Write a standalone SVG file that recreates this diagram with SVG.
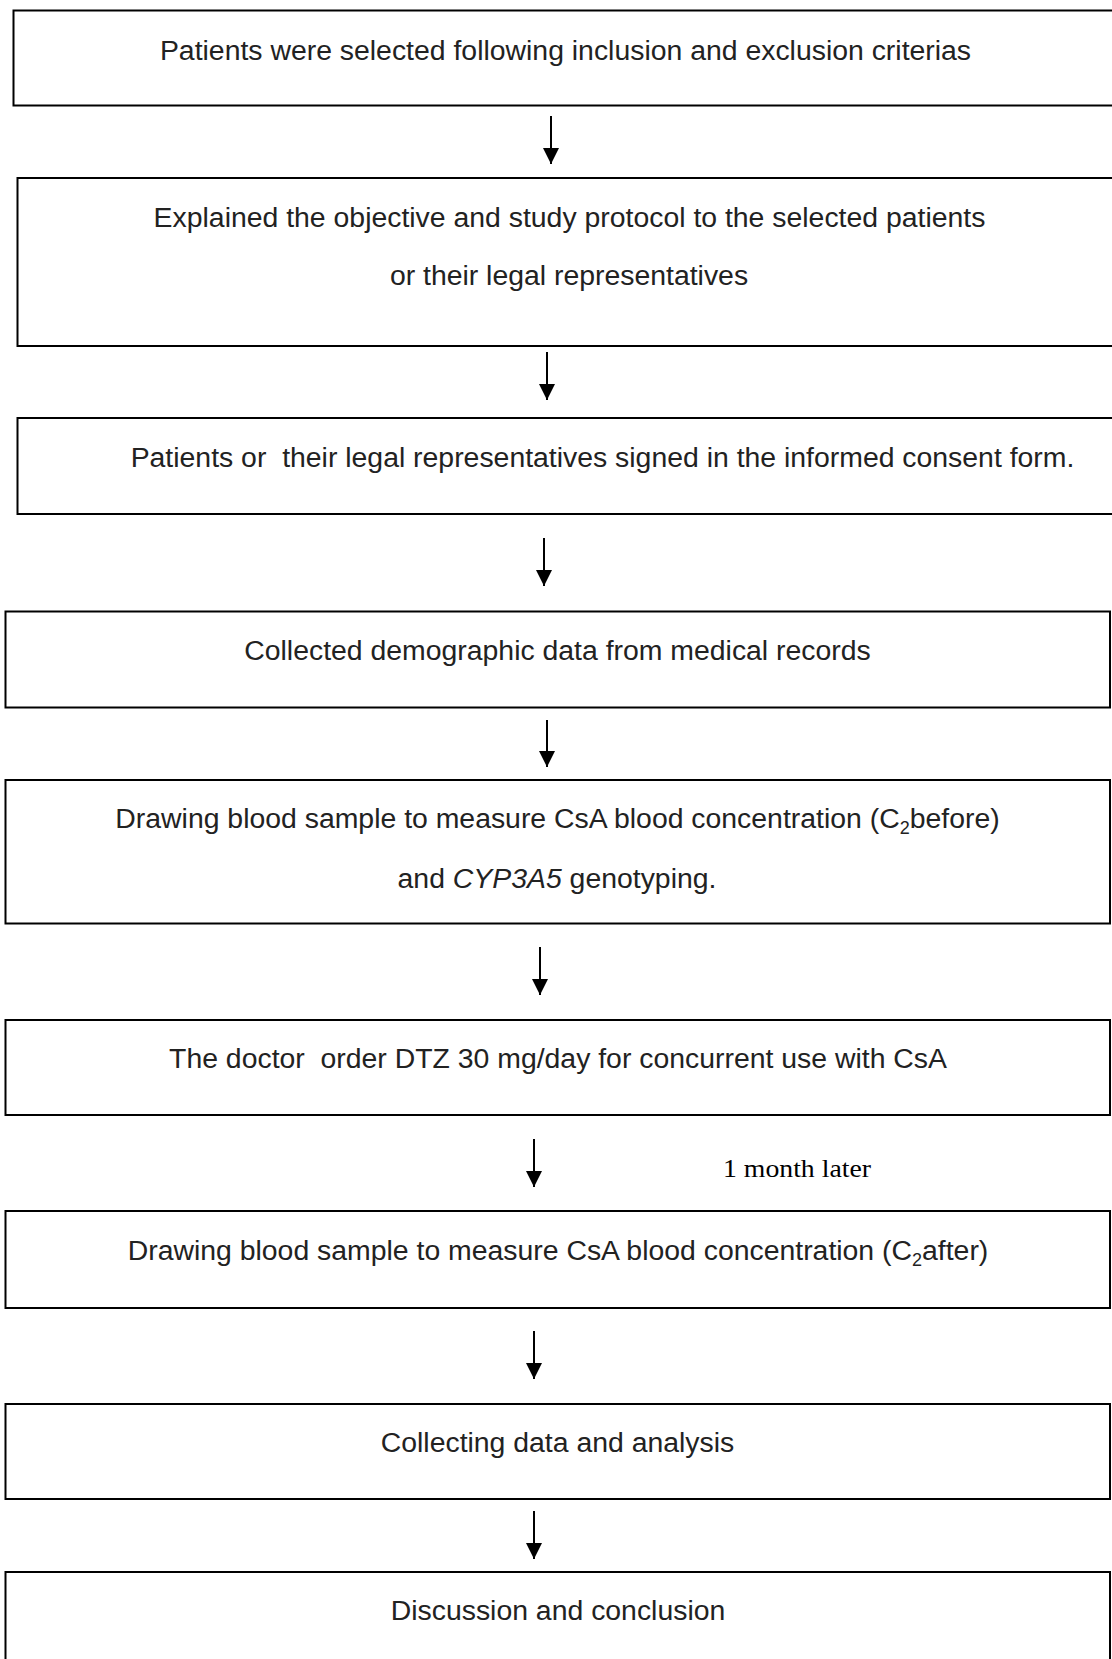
<svg xmlns="http://www.w3.org/2000/svg" width="1112" height="1659" viewBox="0 0 1112 1659">
<style>
.box{fill:#fff;stroke:#000;stroke-width:2}
.t{font-family:"Liberation Sans",Arial,sans-serif;font-size:28.4px;fill:#222;text-anchor:middle}
.sub{font-size:18px}
.conn{stroke:#000;stroke-width:2;fill:none;marker-end:url(#ah)}
.lbl{font-family:"Liberation Serif","Times New Roman",serif;font-size:26px;fill:#000}
</style>
<defs>
<marker id="ah" markerUnits="userSpaceOnUse" markerWidth="16" markerHeight="16" refX="16" refY="8" orient="auto">
<path d="M0,0 L16,8 L0,16 Z" fill="#000"/>
</marker>
</defs>
<rect width="1112" height="1659" fill="#fff"/>
<g id="connectors">
<line class="conn" x1="551" y1="116" x2="551" y2="164"/>
<line class="conn" x1="547" y1="352" x2="547" y2="400"/>
<line class="conn" x1="544" y1="538" x2="544" y2="586"/>
<line class="conn" x1="547" y1="720" x2="547" y2="767"/>
<line class="conn" x1="540" y1="947" x2="540" y2="995"/>
<line class="conn" x1="534" y1="1139" x2="534" y2="1187"/>
<line class="conn" x1="534" y1="1331" x2="534" y2="1379"/>
<line class="conn" x1="534" y1="1511" x2="534" y2="1559"/>
<text class="lbl" x="723" y="1177" textLength="148" lengthAdjust="spacingAndGlyphs">1 month later</text>
</g>
<g id="n1">
<rect class="box" x="13.5" y="10.5" width="1110" height="95"/>
<text class="t" x="565.5" y="60">Patients were selected following inclusion and exclusion criterias</text>
</g>
<g id="n2">
<rect class="box" x="17.5" y="178" width="1110" height="168"/>
<text class="t" x="569.5" y="227">Explained the objective and study protocol to the selected patients</text>
<text class="t" x="569" y="285">or their legal representatives</text>
</g>
<g id="n3">
<rect class="box" x="17.5" y="418" width="1110" height="96"/>
<text class="t" x="602.5" y="467" xml:space="preserve">Patients or  their legal representatives signed in the informed consent form.</text>
</g>
<g id="n4">
<rect class="box" x="5.5" y="611.5" width="1104.5" height="96"/>
<text class="t" x="557.5" y="660">Collected demographic data from medical records</text>
</g>
<g id="n5">
<rect class="box" x="5.5" y="780" width="1104.5" height="143.5"/>
<text class="t" x="557.5" y="828">Drawing blood sample to measure CsA blood concentration (C<tspan class="sub" dy="6">2</tspan><tspan dy="-6">before)</tspan></text>
<text class="t" x="557" y="888">and <tspan font-style="italic">CYP3A5</tspan> genotyping.</text>
</g>
<g id="n6">
<rect class="box" x="5.5" y="1020" width="1104.5" height="95"/>
<text class="t" x="558" y="1068" xml:space="preserve">The doctor  order DTZ 30 mg/day for concurrent use with CsA</text>
</g>
<g id="n7">
<rect class="box" x="5.5" y="1211" width="1104.5" height="97"/>
<text class="t" x="558" y="1260">Drawing blood sample to measure CsA blood concentration (C<tspan class="sub" dy="6">2</tspan><tspan dy="-6">after)</tspan></text>
</g>
<g id="n8">
<rect class="box" x="5.5" y="1404" width="1104.5" height="95"/>
<text class="t" x="557.5" y="1452">Collecting data and analysis</text>
</g>
<g id="n9">
<rect class="box" x="5.5" y="1572" width="1104.5" height="120"/>
<text class="t" x="558" y="1620">Discussion and conclusion</text>
</g>
</svg>
